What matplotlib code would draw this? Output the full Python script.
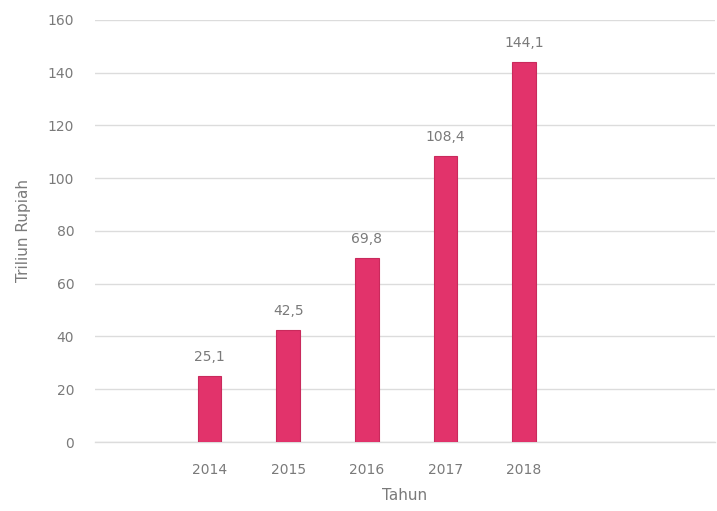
import numpy as np
import matplotlib.pyplot as plt

# data
tahun = ['2014', '2015', '2016', '2017', '2018']
nilai = [25.1, 42.5, 69.8, 108.4, 144.1]
label_nilai = ['25,1', '42,5', '69,8', '108,4', '144,1']
yticks = [0, 20, 40, 60, 80, 100, 120, 140, 160]

abu = '#7a7a7a'
warna_bar = '#e2336b'

fig = plt.figure(figsize=(7.17, 5.11), dpi=100)
ax = fig.add_axes([0.1325, 0.135, 0.8645, 0.826])

x = np.arange(len(tahun))
ax.bar(x, nilai, width=0.3, color=warna_bar, edgecolor='#c92a5c', linewidth=0.8, zorder=3)

for xi, v, t in zip(x, nilai, label_nilai):
    ax.text(xi, v + 4.5, t, ha='center', va='bottom', fontsize=10, color=abu)

ax.set_xlim(-1.46, 6.43)
ax.set_ylim(0, 160)
ax.set_xticks(x)
ax.set_xticklabels(tahun)
ax.set_yticks(yticks)
ax.tick_params(axis='both', length=0, labelsize=10, labelcolor=abu)
ax.tick_params(axis='y', pad=15)
ax.tick_params(axis='x', pad=15)

ax.grid(axis='y', color='#dcdcdc', linewidth=1, zorder=0)
ax.axhline(0, color='#dcdcdc', linewidth=1, zorder=1, clip_on=False)
for s in ax.spines.values():
    s.set_visible(False)

ax.set_ylabel('Triliun Rupiah', fontsize=11, color=abu, labelpad=12)
ax.set_xlabel('Tahun', fontsize=11, color=abu, labelpad=8)

fig.savefig('out.png', dpi=100)
